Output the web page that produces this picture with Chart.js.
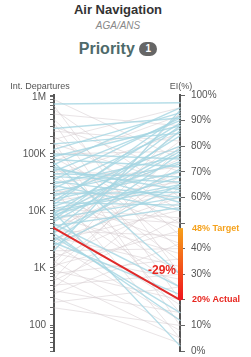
<!DOCTYPE html>
<html>
<head>
<meta charset="utf-8">
<script src="https://cdn.jsdelivr.net/npm/chart.js@4.4.1/dist/chart.umd.min.js"></script>
<style>
    html, body { margin: 0; padding: 0; background: #fff; }
    body { width: 251px; height: 357px; position: relative; overflow: hidden; font-family: "Liberation Sans", Arial, sans-serif; }
    #chart { position: absolute; left: 0; top: 0; }
    .head { position: absolute; left: 0; width: 236px; text-align: center; }
    .t1 { top: 2px; font-size: 13px; font-weight: bold; color: #333; }
    .t2 { top: 20px; font-size: 10px; font-style: italic; color: #888; }
    .t3 { top: 40px; font-size: 16px; font-weight: bold; color: #4e6a6a; }
    .badge { display: inline-block; width: 18px; height: 14px; line-height: 14px; border-radius: 7px; background: #666; color: #fff; font-size: 10px; vertical-align: 2px; }
</style>
</head>
<body>
<div class="head t1">Air Navigation</div>
<div class="head t2">AGA/ANS</div>
<div class="head t3">Priority <span class="badge">1</span></div>
<canvas id="chart" width="251" height="363"></canvas>
<script>
// Parallel axes: international departures (log) vs EI (%)

const leftTitle = 'Int. Departures';
const rightTitle = 'EI(%)';

// highlighted state
const stateDepartures = 5000;
const stateActual = 20;
const stateTarget = 48;
const stateGap = '-29%';

// other states, highlighted group (blue)
const blueDepartures = [750000, 280000, 150000, 120000, 100000, 90000, 80000, 70000, 65000, 60000,
    55000, 50000, 45000, 40000, 35000, 33000, 30000, 28000, 25000, 22000,
    20000, 18000, 16000, 15000, 14000, 13000, 12000, 11000, 10000, 9500,
    9000, 8500, 8000, 7500, 7000, 6500, 6000, 5500, 4500, 4200,
    4000, 3500, 3000, 2800, 2500, 2000];
const blueEI = [97, 91, 85, 93, 75, 88, 72, 30, 95, 58,
    63, 90, 68, 66, 91, 60, 76, 55, 87, 73,
    62, 80, 70, 89, 57, 92, 74, 65, 64, 2,
    84, 68, 79, 60, 88, 78, 25, 56, 86, 71,
    12, 15, 77, 22, 65, 94];

// remaining states (grey)
const greyDepartures = [900000, 700000, 600000, 500000, 400000, 350000, 300000, 250000, 200000, 180000,
    160000, 150000, 120000, 100000, 85000, 75000, 60000, 55000, 50000, 42000,
    38000, 30000, 26000, 24000, 22000, 19000, 17000, 15000, 13000, 11000,
    9000, 8500, 8000, 7000, 6000, 5000, 4500, 4000, 3500, 3200,
    3000, 2600, 2500, 2200, 2000, 1800, 1500, 1300, 1200, 1100,
    1000, 900, 800, 700, 650, 600, 500, 450, 400, 350,
    300, 250, 200];
const greyEI = [75, 30, 60, 88, 45, 20, 70, 82, 55, 95,
    10, 65, 40, 78, 50, 92, 35, 15, 68, 85,
    48, 72, 30, 5, 60, 80, 42, 66, 25, 52,
    75, 50, 38, 62, 18, 70, 45, 82, 33, 60,
    55, 12, 93, 68, 40, 28, 58, 8, 88, 47,
    74, 20, 36, 5, 80, 52, 30, 64, 15, 42,
    3, 25, 10];

const depTicks = {1000000: '1M', 100000: '100K', 10000: '10K', 1000: '1K', 100: '100'};

function formatDep(value) {
    const exp = Math.log10(value);
    if (Math.abs(exp - Math.round(exp)) > 1e-9) return '';
    return depTicks[Math.round(Math.pow(10, Math.round(exp)))] || '';
}

function drawPair(ctx, yLeft, yRight, left, right, dep, ei) {
    ctx.beginPath();
    ctx.moveTo(left, yLeft.getPixelForValue(dep));
    ctx.lineTo(right, yRight.getPixelForValue(ei));
    ctx.stroke();
}

const parallelLines = {
    id: 'parallelLines',
    beforeDatasetsDraw(chart) {
        const {ctx, scales} = chart;
        const left = scales.x.getPixelForValue(0);
        const right = scales.x.getPixelForValue(1);
        ctx.save();
        ctx.lineCap = 'round';

        ctx.strokeStyle = 'rgba(212, 202, 206, 0.5)';
        ctx.lineWidth = 1;
        greyDepartures.forEach((d, i) => drawPair(ctx, scales.y, scales.y1, left, right, d, greyEI[i]));

        ctx.strokeStyle = 'rgba(165, 214, 226, 0.8)';
        ctx.lineWidth = 1.4;
        blueDepartures.forEach((d, i) => drawPair(ctx, scales.y, scales.y1, left, right, d, blueEI[i]));

        ctx.strokeStyle = '#e02a2a';
        ctx.lineWidth = 2;
        drawPair(ctx, scales.y, scales.y1, left, right, stateDepartures, stateActual);
        ctx.restore();
    },
    afterDraw(chart) {
        const {ctx, chartArea, scales} = chart;
        const right = scales.x.getPixelForValue(1);
        const yTarget = scales.y1.getPixelForValue(stateTarget);
        const yActual = scales.y1.getPixelForValue(stateActual);
        ctx.save();

        // gap bar between target and actual
        const grad = ctx.createLinearGradient(0, yTarget, 0, yActual);
        grad.addColorStop(0, '#f6a01a');
        grad.addColorStop(1, '#f0141c');
        ctx.fillStyle = grad;
        ctx.fillRect(right - 2, yTarget, 5, yActual - yTarget);

        ctx.font = 'bold 9px "Liberation Sans", Arial, sans-serif';
        ctx.textBaseline = 'middle';
        ctx.textAlign = 'left';
        ctx.fillStyle = '#f5a21d';
        ctx.fillText(stateTarget + '% Target', right + 12, yTarget);
        ctx.fillStyle = '#e8261f';
        ctx.fillText(stateActual + '% Actual', right + 12, yActual);

        ctx.font = 'bold 12px "Liberation Sans", Arial, sans-serif';
        ctx.textAlign = 'right';
        ctx.fillText(stateGap, right - 4, scales.y1.getPixelForValue((stateTarget + stateActual) / 2) + 7);

        // axis titles
        ctx.font = '9px "Liberation Sans", Arial, sans-serif';
        ctx.fillStyle = '#555';
        ctx.textAlign = 'center';
        ctx.fillText(leftTitle, scales.x.getPixelForValue(0) - 14, chartArea.top - 8);
        ctx.fillText(rightTitle, right + 1, chartArea.top - 8);
        ctx.restore();
    }
};

new Chart(document.getElementById('chart'), {
    type: 'line',
    data: { datasets: [] },
    plugins: [parallelLines],
    options: {
        responsive: false,
        animation: false,
        events: [],
        layout: { padding: { top: 95, bottom: 1, left: 0, right: 0 } },
        plugins: { legend: { display: false }, tooltip: { enabled: false } },
        scales: {
            x: { type: 'linear', min: 0, max: 1, display: false },
            y: {
                type: 'logarithmic',
                position: 'left',
                min: 35,
                max: 1080000,
                afterFit: (scale) => { scale.width = 54; },
                border: { display: true, color: '#555', width: 2 },
                grid: { drawOnChartArea: false, drawTicks: true, tickLength: 4, color: '#666', lineWidth: 1 },
                ticks: {
                    autoSkip: false,
                    padding: 4,
                    color: '#555',
                    font: { size: 10, family: '"Liberation Sans", Arial, sans-serif' },
                    callback: (value) => formatDep(value)
                }
            },
            y1: {
                type: 'linear',
                position: 'right',
                min: 0,
                max: 100,
                afterFit: (scale) => { scale.width = 71; },
                border: { display: true, color: '#555', width: 2 },
                grid: { drawOnChartArea: false, drawTicks: true, tickLength: 5, color: '#666', lineWidth: 1 },
                ticks: {
                    stepSize: 10,
                    autoSkip: false,
                    padding: 6,
                    color: '#555',
                    font: { size: 10, family: '"Liberation Sans", Arial, sans-serif' },
                    callback: (value) => (value === stateActual || value === 50) ? '' : value + '%'
                }
            }
        }
    }
});
</script>
</body>
</html>
